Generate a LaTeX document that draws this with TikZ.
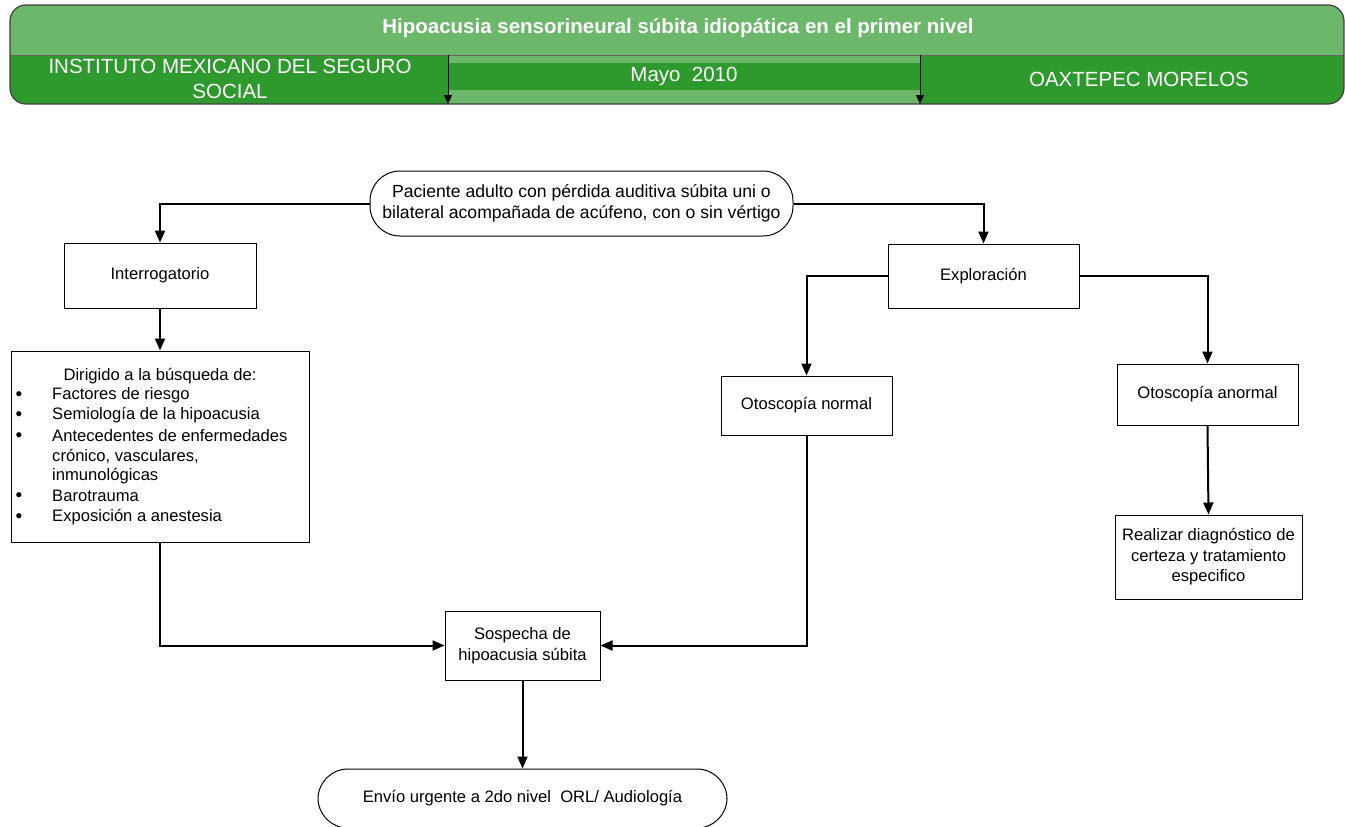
\documentclass[tikz,border=0pt]{standalone}
\usepackage{fontspec}
\setmainfont{Liberation Sans}
\usetikzlibrary{arrows.meta}
\definecolor{hlight}{HTML}{6BB86B}
\definecolor{hdark}{HTML}{2E9A2E}
\tikzset{
  box/.style={draw=black, line width=1pt, fill=white, align=center, inner sep=0pt, font=\fontsize{16.6}{20.5}\selectfont},
  pill/.style={box, rounded corners=30pt},
  conn/.style={draw=black, line width=2pt, -{Triangle[length=12pt,width=10pt]}},
  htext/.style={text=white, font=\fontsize{20.5}{25}\selectfont, align=center, inner sep=0pt},
  ltext/.style={anchor=west, inner sep=0pt, font=\fontsize{16.6}{20}\selectfont},
  bul/.style={anchor=center, inner sep=0pt, font=\fontsize{19}{20}\selectfont},
}
\begin{document}
\begin{tikzpicture}[x=1pt,y=-1pt]
\useasboundingbox (0,0) rectangle (1345,827);
% header
\begin{scope}
\clip[rounded corners=16pt] (10,5) rectangle (1344,104);
\fill[hlight] (10,5) rectangle (1345,104);
\fill[hdark] (10,55) rectangle (448,104);
\fill[hdark] (920,55) rectangle (1345,104);
\fill[hdark] (448,63) rectangle (920,90);
\end{scope}
\draw[black!60, line width=0.8pt] (10,55) -- (1344,55);
\draw[black!75, line width=1.2pt, rounded corners=16pt] (10,5) rectangle (1344,104);
\draw[black, line width=1pt, -{Triangle[length=9pt,width=8pt]}] (448,55) -- (448,104);
\draw[black, line width=1pt, -{Triangle[length=9pt,width=8pt]}] (920,55) -- (920,104);
\node[htext, font=\fontsize{20.5}{24}\selectfont\bfseries] (title) at (678,28) {Hipoacusia sensorineural súbita idiopática en el primer nivel};
\node[htext] (imss) at (230,78.5) {INSTITUTO MEXICANO DEL SEGURO\\SOCIAL};
\node[htext] (mayo) at (684,76) {Mayo\ \ 2010};
\node[htext] (oax) at (1139,79) {OAXTEPEC MORELOS};
% nodes
\node[pill, minimum width=423pt, minimum height=65pt, font=\fontsize{17.6}{21}\selectfont] (start) at (581.5,203.5) {Paciente adulto con pérdida auditiva súbita uni o\\bilateral acompañada de acúfeno, con o sin vértigo};
\node[box, minimum width=192pt, minimum height=65pt] (interr) at (160,275.5) {Interrogatorio};
\node[box, minimum width=298pt, minimum height=191pt] (dir) at (160,446.5) {};
\node[box, minimum width=191pt, minimum height=64pt] (explo) at (983.5,276) {Exploración};
\node[box, minimum width=171pt, minimum height=59pt] (otn) at (806.5,405.5) {Otoscopía normal};
\node[box, minimum width=181pt, minimum height=61pt] (ota) at (1207.5,394.5) {Otoscopía anormal};
\node[box, minimum width=187pt, minimum height=84pt] (real) at (1208.5,557) {Realizar diagnóstico de\\certeza y tratamiento\\especifico};
\node[box, minimum width=155pt, minimum height=69pt] (sosp) at (522.5,645.5) {Sospecha de\\hipoacusia súbita};
\node[pill, minimum width=409pt, minimum height=59pt] (envio) at (522.5,798.5) {Envío urgente a 2do nivel\ \ ORL/ Audiología};
% list in dir box
\node[inner sep=0pt, font=\fontsize{16.6}{20}\selectfont] (d0) at (160,376) {Dirigido a la búsqueda de:};
\node[bul] (b1) at (19,396) {\textbullet};
\node[ltext] (l1) at (52,395) {Factores de riesgo};
\node[bul] (b2) at (19,416) {\textbullet};
\node[ltext] (l2) at (52,415) {Semiología de la hipoacusia};
\node[bul] (b3) at (19,437) {\textbullet};
\node[ltext] (l3) at (52,436) {Antecedentes de enfermedades};
\node[ltext] (l3b) at (52,456) {crónico, vasculares,};
\node[ltext] (l3c) at (52,476) {inmunológicas};
\node[bul] (b4) at (19,497) {\textbullet};
\node[ltext] (l4) at (52,496) {Barotrauma};
\node[bul] (b5) at (19,518) {\textbullet};
\node[ltext] (l5) at (52,517) {Exposición a anestesia};
% connectors
\draw[conn] (start.west) -| (interr.north);
\draw[conn] (start.east) -| (explo.north);
\draw[conn] (interr.south) -- (dir.north);
\draw[conn] (dir.south) |- (sosp.west);
\draw[conn] (explo.west) -| (otn.north);
\draw[conn] (explo.east) -| (ota.north);
\draw[conn] (ota.south) -- (real.north);
\draw[conn] (otn.south) |- (sosp.east);
\draw[conn] (sosp.south) -- (envio.north);
\end{tikzpicture}
\end{document}
